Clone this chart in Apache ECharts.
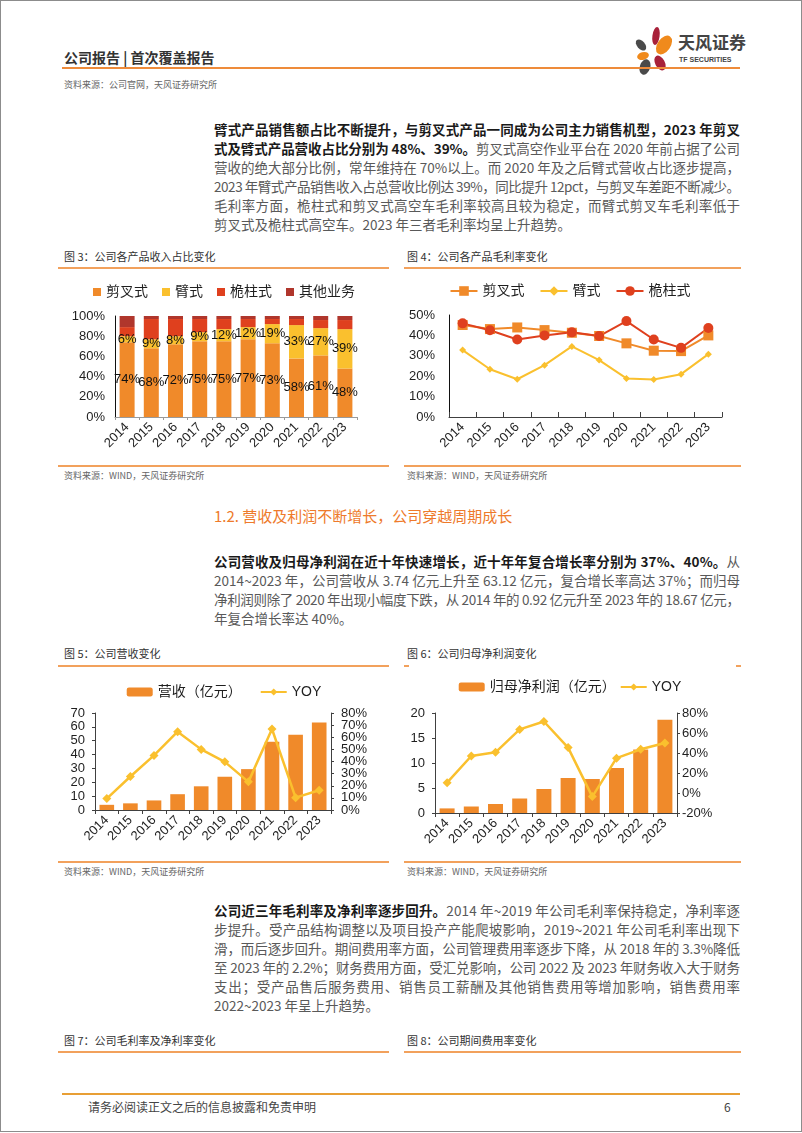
<!DOCTYPE html>
<html><head><meta charset="utf-8">
<script src="https://cdn.jsdelivr.net/npm/echarts@6/dist/echarts.min.js"></script>
<style>
html,body{margin:0;padding:0;background:#fff;}
body{width:802px;height:1133px;position:relative;overflow:hidden;font-family:"Noto Sans CJK SC","Noto Sans",sans-serif;}
.frame{position:absolute;left:0;top:0;width:800px;height:1130px;border:1px solid #8c8c8c;}
.hl{position:absolute;height:2px;background:#EE8B3A;}
.cl{position:absolute;height:2px;background:#F2A15C;}
.cap{position:absolute;font-size:11px;color:#333;line-height:14px;white-space:nowrap;}
.src{position:absolute;font-size:9px;color:#666;line-height:12px;white-space:nowrap;}
.para{position:absolute;left:214px;width:526px;font-size:13.5px;color:#595959;}
.ln{display:block;white-space:nowrap;height:19px;line-height:19px;}
.ln .t{display:inline-block;}
b{color:#1a1a1a;font-weight:bold;}
.chart{position:absolute;}
</style></head>
<body>
<div class="frame"></div>

<!-- header -->
<div style="position:absolute;left:64px;top:48px;font-size:14px;font-weight:bold;color:#333;line-height:18px;white-space:nowrap;">公司报告 | 首次覆盖报告</div>
<svg style="position:absolute;left:626px;top:22px;" width="120" height="56" viewBox="626 22 120 56">
  <ellipse cx="656" cy="36" rx="3.6" ry="9" fill="#A8213A" transform="rotate(8 656 36)"/>
  <ellipse cx="664" cy="45" rx="6.5" ry="10.5" fill="#F08A1C" transform="rotate(35 664 45)"/>
  <ellipse cx="641" cy="45" rx="4" ry="6.5" fill="#4a4a4a" transform="rotate(-40 641 45)"/>
  <ellipse cx="643" cy="56" rx="6" ry="3.8" fill="#F08A1C" transform="rotate(-15 643 56)"/>
  <ellipse cx="645" cy="67" rx="5.2" ry="8" fill="#4a4a4a" transform="rotate(18 645 67)"/>
  <ellipse cx="660" cy="63" rx="4.8" ry="8" fill="#A8213A" transform="rotate(-28 660 63)"/>
</svg>
<div style="position:absolute;left:678px;top:32px;font-size:17px;font-weight:bold;color:#444;line-height:20px;white-space:nowrap;">天风证券</div>
<div style="position:absolute;left:679px;top:56px;font-size:7px;font-weight:bold;color:#444;line-height:8px;white-space:nowrap;font-family:'Liberation Sans Narrow','Liberation Sans',sans-serif;">TF SECURITIES</div>
<div class="hl" style="left:62px;top:67px;width:678px;"></div>
<div class="src" style="left:64px;top:79px;">资料来源：公司官网，天风证券研究所</div>

<!-- paragraph 1 -->
<div class="para" style="top:120px;">
<span class="ln j"><span class="t"><b>臂式产品销售额占比不断提升，与剪叉式产品一同成为公司主力销售机型，2023 年剪叉</b></span></span>
<span class="ln j"><span class="t"><b>式及臂式产品营收占比分别为 48%、39%。</b>剪叉式高空作业平台在 2020 年前占据了公司</span></span>
<span class="ln j"><span class="t">营收的绝大部分比例，常年维持在 70%以上。而 2020 年及之后臂式营收占比逐步提高，</span></span>
<span class="ln j"><span class="t">2023 年臂式产品销售收入占总营收比例达 39%，同比提升 12pct，与剪叉车差距不断减少。</span></span>
<span class="ln j"><span class="t">毛利率方面，桅柱式和剪叉式高空车毛利率较高且较为稳定，而臂式剪叉车毛利率低于</span></span>
<span class="ln"><span class="t">剪叉式及桅柱式高空车。2023 年三者毛利率均呈上升趋势。</span></span>
</div>

<div class="cap" style="left:64px;top:249px;">图 3：公司各产品收入占比变化</div>
<div class="cap" style="left:407px;top:249px;">图 4：公司各产品毛利率变化</div>
<div class="cl" style="left:58px;top:267px;width:331px;"></div>
<div class="cl" style="left:404px;top:267px;width:337px;"></div>

<div id="c3" class="chart" style="left:58px;top:272px;width:332px;height:192px;"></div>
<div id="c4" class="chart" style="left:400px;top:272px;width:340px;height:192px;"></div>

<div class="cl" style="left:58px;top:465px;width:331px;"></div>
<div class="cl" style="left:404px;top:465px;width:337px;"></div>
<div class="src" style="left:64px;top:470px;">资料来源：WIND，天风证券研究所</div>
<div class="src" style="left:407px;top:470px;">资料来源：WIND，天风证券研究所</div>

<div style="position:absolute;left:214px;top:506px;font-size:15px;color:#EE7A2B;line-height:20px;white-space:nowrap;">1.2. 营收及利润不断增长，公司穿越周期成长</div>

<!-- paragraph 2 -->
<div class="para" style="top:552px;">
<span class="ln j"><span class="t"><b>公司营收及归母净利润在近十年快速增长，近十年年复合增长率分别为 37%、40%。</b>从</span></span>
<span class="ln j"><span class="t">2014~2023 年，公司营收从 3.74 亿元上升至 63.12 亿元，复合增长率高达 37%；而归母</span></span>
<span class="ln j"><span class="t">净利润则除了 2020 年出现小幅度下跌，从 2014 年的 0.92 亿元升至 2023 年的 18.67 亿元，</span></span>
<span class="ln"><span class="t">年复合增长率达 40%。</span></span>
</div>

<div class="cap" style="left:64px;top:646px;">图 5：公司营收变化</div>
<div class="cap" style="left:407px;top:646px;">图 6：公司归母净利润变化</div>
<div class="cl" style="left:58px;top:665px;width:331px;"></div>
<div class="cl" style="left:404px;top:665px;width:5px;"></div>
<div class="cl" style="left:736px;top:665px;width:5px;"></div>

<div id="c5" class="chart" style="left:58px;top:668px;width:332px;height:192px;"></div>
<div id="c6" class="chart" style="left:400px;top:668px;width:340px;height:192px;"></div>

<div class="cl" style="left:58px;top:861px;width:331px;"></div>
<div class="cl" style="left:404px;top:861px;width:337px;"></div>
<div class="src" style="left:64px;top:866px;">资料来源：WIND，天风证券研究所</div>
<div class="src" style="left:407px;top:866px;">资料来源：WIND，天风证券研究所</div>

<!-- paragraph 3 -->
<div class="para" style="top:901px;">
<span class="ln j"><span class="t"><b>公司近三年毛利率及净利率逐步回升。</b>2014 年~2019 年公司毛利率保持稳定，净利率逐</span></span>
<span class="ln j"><span class="t">步提升。受产品结构调整以及项目投产产能爬坡影响，2019~2021 年公司毛利率出现下</span></span>
<span class="ln j"><span class="t">滑，而后逐步回升。期间费用率方面，公司管理费用率逐步下降，从 2018 年的 3.3%降低</span></span>
<span class="ln j"><span class="t">至 2023 年的 2.2%；财务费用方面，受汇兑影响，公司 2022 及 2023 年财务收入大于财务</span></span>
<span class="ln j"><span class="t">支出；受产品售后服务费用、销售员工薪酬及其他销售费用等增加影响，销售费用率</span></span>
<span class="ln"><span class="t">2022~2023 年呈上升趋势。</span></span>
</div>

<div class="cap" style="left:64px;top:1033px;">图 7：公司毛利率及净利率变化</div>
<div class="cap" style="left:407px;top:1033px;">图 8：公司期间费用率变化</div>
<div class="cl" style="left:58px;top:1051px;width:331px;"></div>
<div class="cl" style="left:404px;top:1051px;width:337px;"></div>

<!-- footer -->
<div class="hl" style="left:62px;top:1093px;width:678px;background:#E89F35;"></div>
<div style="position:absolute;left:88px;top:1099px;font-size:12px;color:#444;line-height:16px;white-space:nowrap;">请务必阅读正文之后的信息披露和免责申明</div>
<div style="position:absolute;left:724px;top:1099px;font-size:12px;color:#444;line-height:16px;">6</div>

<script>
// ---------- data ----------
const years = ['2014','2015','2016','2017','2018','2019','2020','2021','2022','2023'];
// 图3 各产品收入占比 (%)
const shareScissor = [74,68,72,75,75,77,73,58,61,48];
const shareBoom    = [6,9,8,9,12,12,19,33,27,39];
const shareMast    = [9,20,17,13,10,8,5,6,8,9];
const shareOther   = [11,3,3,3,3,3,3,3,4,4];
// 图4 各产品毛利率 (%)
const gmScissor = [45.1,43.1,43.9,42.6,41.3,39.7,36.1,32.5,32.3,40.0];
const gmBoom    = [32.8,23.4,18.5,25.4,34.6,27.9,18.9,18.4,21.0,30.8];
const gmMast    = [45.9,42.5,38.0,40.0,41.5,39.7,47.0,38.0,33.9,43.6];
// 图5 营收 (亿元) 与 YOY (%)
const revenue    = [3.74,4.8,6.9,11.4,17.1,24.0,29.5,49.3,54.3,63.12];
const revenueYoy = [9.4,27.6,45.0,64.6,50.0,39.7,23.2,66.8,10.2,16.3];
// 图5 右轴刻度 (%)
const yoyTicksEven = [0,20,40,60,80];
const yoyTicksOdd  = [10,30,50,70];
// 图6 归母净利润 (亿元) 与 YOY (%)
const netProfit = [0.92,1.3,1.8,2.9,4.8,7.0,6.8,9.0,12.7,18.67];
const profitYoy = [10.3,37.0,40.7,63.6,71.5,45.4,-3.6,34.8,43.7,50.0];

// ---------- text justification ----------
function justifyLines(){
  document.querySelectorAll('.ln.j').forEach(el=>{
    const t = el.querySelector('.t');
    t.style.letterSpacing = '0px';
    const w = t.getBoundingClientRect().width;
    const n = t.textContent.length;
    const ls = (526 - w)/(n-1);
    t.style.letterSpacing = ls + 'px';
  });
}
justifyLines();
if (document.fonts && document.fonts.ready) document.fonts.ready.then(justifyLines);

// ---------- charts ----------
const FF = "'Liberation Sans', 'Noto Sans CJK SC', sans-serif";
const C_ORANGE = '#F08A2A', C_YELLOW = '#FAC02E', C_RED = '#DF401E', C_DARK = '#B0362C';
const TXT = '#1f1f1f';

function catAxis(extra){
  return Object.assign({
    type:'category', data:years, boundaryGap:true,
    axisLine:{show:true, onZero:false, lineStyle:{color:'#404040', width:1}},
    axisTick:{show:true, length:4, lineStyle:{color:'#404040'}},
    axisLabel:{rotate:45, fontSize:13, color:TXT, fontFamily:FF, margin:8, interval:0}
  }, extra||{});
}
function valAxis(min,max,interval,fmt,margin,extra){
  return Object.assign({
    type:'value', min:min, max:max, interval:interval,
    splitLine:{show:false},
    axisLine:{show:true, onZero:false, lineStyle:{color:'#404040'}},
    axisTick:{show:true, length:3, lineStyle:{color:'#404040'}},
    axisLabel:{fontSize:13, color:TXT, fontFamily:FF, margin:margin, formatter:fmt,
               showMinLabel:true, showMaxLabel:true, hideOverlap:false}
  }, extra||{});
}

// 图3
const c3 = echarts.init(document.getElementById('c3'));
const barLabel = {show:true, position:'inside', formatter:'{c}%', color:'#111', fontSize:13, fontFamily:FF};
c3.setOption({
  animation:false,
  textStyle:{fontFamily:FF},
  legend:{top:8, left:'center', itemWidth:8, itemHeight:8, itemGap:14, icon:'rect',
          textStyle:{fontSize:14, color:TXT, fontFamily:FF}},
  grid:{left:57, right:33, top:44, bottom:47},
  xAxis: catAxis({axisLine:{show:true, lineStyle:{color:'#9a9a9a'}}, axisTick:{show:true, length:3, lineStyle:{color:'#9a9a9a'}}}),
  yAxis: valAxis(0,100,20,'{value}%',10,{axisTick:{show:false}, axisLine:{show:true, lineStyle:{color:'#111'}}}),
  series:[
    {name:'剪叉式', type:'bar', stack:'s', data:shareScissor, barWidth:'62%', itemStyle:{color:C_ORANGE}, label:barLabel},
    {name:'臂式', type:'bar', stack:'s', data:shareBoom, itemStyle:{color:C_YELLOW}, label:barLabel},
    {name:'桅柱式', type:'bar', stack:'s', data:shareMast, itemStyle:{color:C_RED}},
    {name:'其他业务', type:'bar', stack:'s', data:shareOther, itemStyle:{color:C_DARK}}
  ]
});

// 图4
const c4 = echarts.init(document.getElementById('c4'));
c4.setOption({
  animation:false,
  textStyle:{fontFamily:FF},
  legend:{top:7, left:'center', itemWidth:27, itemHeight:12, itemGap:15,
          textStyle:{fontSize:14, color:TXT, fontFamily:FF}},
  grid:{left:49, right:18, top:43, bottom:47},
  xAxis: catAxis({axisTick:{show:true, inside:true, length:5, lineStyle:{color:'#404040'}}}),
  yAxis: valAxis(0,50,10,'{value}%',14,{axisTick:{show:false}, axisLine:{show:true, lineStyle:{color:'#111'}}}),
  series:[
    {name:'剪叉式', type:'line', data:gmScissor, symbol:'rect', symbolSize:10, lineStyle:{width:2, color:C_ORANGE}, itemStyle:{color:C_ORANGE}},
    {name:'臂式', type:'line', data:gmBoom, symbol:'diamond', symbolSize:7, lineStyle:{width:2, color:C_YELLOW}, itemStyle:{color:C_YELLOW}},
    {name:'桅柱式', type:'line', data:gmMast, symbol:'circle', symbolSize:10, lineStyle:{width:2, color:C_RED}, itemStyle:{color:C_RED}}
  ]
});

// 图5
const c5 = echarts.init(document.getElementById('c5'));
c5.setOption({
  animation:false,
  textStyle:{fontFamily:FF},
  legend:{top:12, left:'center', itemWidth:26, itemHeight:9, itemGap:18,
          textStyle:{fontSize:14, color:TXT, fontFamily:FF}},
  grid:{left:37, right:59, top:45, bottom:50},
  xAxis: catAxis(),
  yAxis:[
    valAxis(0,70,10,'{value}',10),
    valAxis(0,80,10,'{value}%',10,{position:'right', alignTicks:false,
      axisTick:{show:true, length:3, lineStyle:{color:'#404040'}, customValues:yoyTicksEven.concat(yoyTicksOdd)},
      axisLabel:{fontSize:13, color:TXT, fontFamily:FF, margin:10, formatter:'{value}%', customValues:yoyTicksEven}}),
    valAxis(0,80,10,'{value}%',10,{position:'right', alignTicks:false, axisLine:{show:false}, axisTick:{show:false},
      axisLabel:{fontSize:13, color:TXT, fontFamily:FF, margin:10, formatter:'{value}%', customValues:yoyTicksOdd}})
  ],
  series:[
    {name:'营收（亿元）', type:'bar', data:revenue, barWidth:'62%', itemStyle:{color:C_ORANGE}},
    {name:'YOY', type:'line', yAxisIndex:1, data:revenueYoy, symbol:'diamond', symbolSize:9,
     lineStyle:{width:2.5, color:C_YELLOW}, itemStyle:{color:C_YELLOW}}
  ]
});

// 图6
const c6 = echarts.init(document.getElementById('c6'));
c6.setOption({
  animation:false,
  textStyle:{fontFamily:FF},
  legend:{top:7, left:'center', itemWidth:26, itemHeight:9, itemGap:4,
          textStyle:{fontSize:14, color:TXT, fontFamily:FF}},
  grid:{left:35, right:63, top:45, bottom:47},
  xAxis: catAxis(),
  yAxis:[
    valAxis(0,20,5,'{value}',10),
    valAxis(-20,80,20,'{value}%',5,{position:'right'})
  ],
  series:[
    {name:'归母净利润（亿元）', type:'bar', data:netProfit, barWidth:'62%', itemStyle:{color:C_ORANGE}},
    {name:'YOY', type:'line', yAxisIndex:1, data:profitYoy, symbol:'diamond', symbolSize:9,
     lineStyle:{width:2.5, color:C_YELLOW}, itemStyle:{color:C_YELLOW}}
  ]
});
</script>
</body></html>
